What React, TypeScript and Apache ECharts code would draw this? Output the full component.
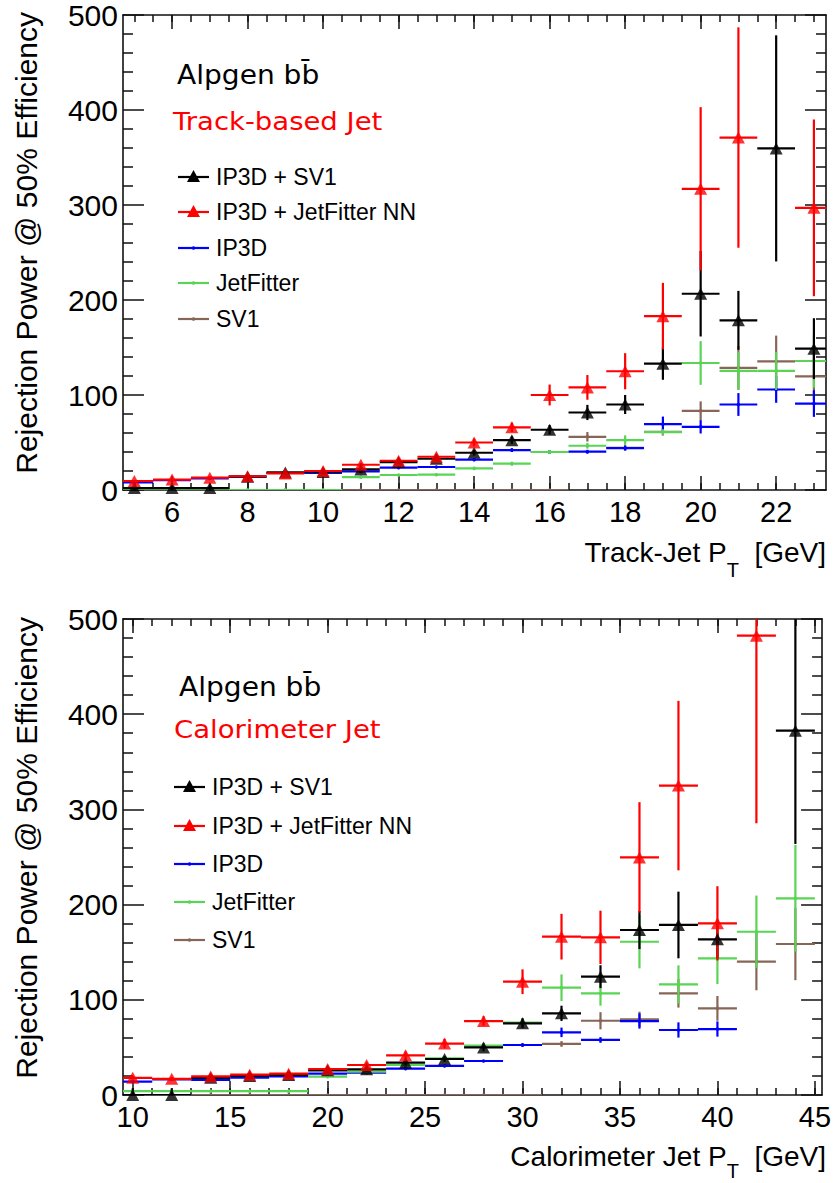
import React, { useEffect, useRef } from "react";
import * as echarts from "echarts";

// ---------- Track-based jets (bins of 1 GeV) ----------
const trackPt = [5, 6, 7, 8, 9, 10, 11, 12, 13, 14, 15, 16, 17, 18, 19, 20, 21, 22, 23];
const trackIP3DSV1 = [2, 2, 2, 14, 18.5, 19, 21.7, 29.4, 32.9, 39.2, 52.5, 63.4, 81.6, 90, 133, 206.6, 178.6, 359.6, 148.8];
const trackIP3DSV1Err = [2, 2, 2, 1.5, 1.5, 1.5, 2, 2, 2.5, 3, 4, 5, 8, 10, 17, 45, 31, 119, 32];
const trackIP3DJFNN = [9.5, 11, 13, 14.5, 17.5, 20, 26.6, 30.8, 35, 50, 66, 100, 108, 125, 183, 317, 371, null, 297];
const trackIP3DJFNNErr = [1, 1, 1, 1.5, 1.5, 1.5, 2, 2.5, 3, 4, 5, 11, 13, 19, 35, 86, 116, null, 93];
const trackIP3D = [8, 10.5, 12.3, 14, 17.9, 18, 19.6, 23.5, 24.2, 31.9, 42, 40, 40.3, 44, 69.3, 66.5, 90, 105.8, 91];
const trackIP3DErr = [1, 1, 1, 1, 1, 1, 1, 1, 1, 1.5, 2, 2, 2, 2.5, 8, 7, 12, 14, 14];
const trackJetFitter = [0, 0, 0, 0, 0, 0, 13.5, 15.8, 16.1, 22.8, 27.7, 40, 46.6, 52.5, 61, 133.7, 125.3, 125.3, 135.8];
const trackJetFitterErr = [0, 0, 0, 0, 0, 0, 1, 1, 1, 1.5, 2, 2, 3, 5, 3, 23, 20, 20, 28];
const trackSV1 = [0, 0, 0, 0, 0, 0, 0, 0, 0, 0, 0, 0, 56, 44.5, 61.3, 83.3, 128.5, 135.5, 119.7];
const trackSV1Err = [0, 0, 0, 0, 0, 0, 0, 0, 0, 0, 0, 0, 5, 3, 4, 10, 23, 27, 25];

// ---------- Calorimeter jets (bins of 2 GeV) ----------
const caloPt = [10, 12, 14, 16, 18, 20, 22, 24, 26, 28, 30, 32, 34, 36, 38, 40, 42, 44];
const caloIP3DSV1 = [0, 0, 18, 20, 21, 25.9, 27, 34, 37.8, 50, 75.3, 85.8, 124.3, 173.3, 178.6, 163.5, null, 382.7];
const caloIP3DSV1Err = [7, 7, 1.5, 1.5, 1.5, 2, 2, 3, 3, 4, 5, 8, 12, 20, 35, 20, null, 119];
const caloIP3DJFNN = [18, 17, 19.5, 21.4, 22.4, 27.3, 31.5, 41.7, 54, 77.7, 119, 166.3, 165.6, 249.6, 325, 180.3, 482.5, null];
const caloIP3DJFNNErr = [2, 2, 2, 2, 2, 3, 3, 4, 5, 5, 13, 24, 28, 58, 89, 39, 197, null];
const caloIP3D = [14, 16.5, 15.8, 18.2, 19.6, 22.4, 23.4, 27.7, 30.5, 35.7, 52.5, 65.8, 57.8, 77.7, 68.3, 69.3, null, null];
const caloIP3DErr = [1, 1, 1, 1, 1, 1, 1, 1, 1, 1, 2, 5, 3, 8, 8, 8, null, null];
const caloJetFitter = [4, 4, 4, 4, 4, 19.3, 24.5, 31.5, 38.5, 51.8, 76, 112.7, 106.8, 161, 116.2, 143.6, 171.5, 206.6];
const caloJetFitterErr = [0, 0, 0, 0, 0, 1, 1.5, 2, 2, 3, 5, 14, 13, 28, 20, 27, 38, 56];
const caloSV1 = [0, 0, 0, 0, 0, 0, 0, 0, 0, 0, 0, 53.6, 78, 79.5, 106.8, 91, 140, 158.6];
const caloSV1Err = [0, 0, 0, 0, 0, 0, 0, 0, 0, 0, 0, 3, 9, 8, 15, 13, 30, 38];

const seriesNames = ["IP3D + SV1", "IP3D + JetFitter NN", "IP3D", "JetFitter", "SV1"];
const seriesColors = ["#000000", "#ff0000", "#0000ff", "#59d454", "#876657"];
const triangleMarker = [true, true, false, false, false];

const yTitle = "Rejection Power @ 50% Efficiency";
const trackTitle = "Track-Jet P";
const caloTitle = "Calorimeter Jet P";

const AXIS_FONT = "'Liberation Sans', Arial, Helvetica, sans-serif";
const DEJAVU = "'DejaVu Sans', sans-serif";

function pack(xs: number[], ys: (number | null)[], es: (number | null)[]) {
  const out: number[][] = [];
  xs.forEach((x, i) => {
    if (ys[i] !== null && ys[i] !== undefined) out.push([x, ys[i] as number, (es[i] ?? 0) as number]);
  });
  return out;
}

function makeRenderItem(halfWidth: number, color: string, dot: boolean) {
  return (_params: any, api: any) => {
    const x = api.value(0);
    const y = api.value(1);
    const e = api.value(2);
    const pL = api.coord([x - halfWidth, y]);
    const pR = api.coord([x + halfWidth, y]);
    const pT = api.coord([x, y + e]);
    const pB = api.coord([x, y - e]);
    const style = { stroke: color, lineWidth: 2.2 };
    const children: any[] = [
      { type: "line", shape: { x1: pL[0], y1: pL[1], x2: pR[0], y2: pR[1] }, style },
      { type: "line", shape: { x1: pT[0], y1: pT[1], x2: pB[0], y2: pB[1] }, style },
    ];
    if (dot) {
      children.push({ type: "circle", shape: { cx: pL[0] + (pR[0] - pL[0]) / 2, cy: pL[1], r: 1.8 }, style: { fill: color } });
    }
    return { type: "group", children };
  };
}

function buildSeries(
  xs: number[],
  sets: [(number | null)[], (number | null)[]][],
  halfWidth: number,
  xAxisIndex: number,
  yAxisIndex: number
) {
  const order = [4, 2, 3, 0, 1];
  const out: any[] = [];
  order.forEach((k) => {
    const data = pack(xs, sets[k][0], sets[k][1]);
    out.push({
      type: "custom",
      name: seriesNames[k],
      xAxisIndex,
      yAxisIndex,
      clip: true,
      silent: true,
      renderItem: makeRenderItem(halfWidth, seriesColors[k], !triangleMarker[k]),
      encode: { x: 0, y: 1 },
      data,
      z: 2 + order.indexOf(k),
    });
    if (triangleMarker[k]) {
      out.push({
        type: "scatter",
        xAxisIndex,
        yAxisIndex,
        clip: true,
        silent: true,
        symbol: "triangle",
        symbolSize: [13, 12],
        itemStyle: { color: seriesColors[k] },
        data: data.map((d) => [d[0], d[1]]),
        z: 10 + order.indexOf(k),
      });
    }
  });
  return out;
}

function range(a: number, b: number, step: number) {
  const r: number[] = [];
  for (let v = a; v <= b + 1e-9; v += step) r.push(Math.round(v * 100) / 100);
  return r;
}

function xAxes(gridIndex: number, min: number, max: number, majors: number[], minors: number[]) {
  const common = { type: "value", gridIndex, min, max, splitLine: { show: false } };
  const line = { show: true, onZero: false, lineStyle: { color: "#111", width: 1.6 } };
  return [
    {
      ...common,
      position: "bottom",
      axisLine: line,
      axisTick: { show: true, inside: true, length: 14, customValues: majors, lineStyle: { color: "#111", width: 1.5 } },
      axisLabel: { show: true, customValues: majors, margin: 7, color: "#000", fontSize: 29, fontFamily: AXIS_FONT },
    },
    {
      ...common,
      position: "bottom",
      axisLine: { show: false, onZero: false },
      axisTick: { show: true, inside: true, length: 7, customValues: minors, lineStyle: { color: "#111", width: 1.5 } },
      axisLabel: { show: false },
    },
    {
      ...common,
      position: "top",
      axisLine: line,
      axisTick: { show: true, inside: true, length: 14, customValues: majors, lineStyle: { color: "#111", width: 1.5 } },
      axisLabel: { show: false },
    },
    {
      ...common,
      position: "top",
      axisLine: { show: false, onZero: false },
      axisTick: { show: true, inside: true, length: 7, customValues: minors, lineStyle: { color: "#111", width: 1.5 } },
      axisLabel: { show: false },
    },
  ];
}

function yAxes(gridIndex: number) {
  const common = {
    type: "value",
    gridIndex,
    min: 0,
    max: 500,
    interval: 100,
    splitLine: { show: false },
    axisLine: { show: true, onZero: false, lineStyle: { color: "#111", width: 1.6 } },
    axisTick: { show: true, inside: true, length: 21, lineStyle: { color: "#111", width: 1.5 } },
    minorTick: { show: true, splitNumber: 5, length: 10, lineStyle: { color: "#111", width: 1.5 } },
  };
  return [
    { ...common, position: "left", axisLabel: { show: true, margin: 5, color: "#000", fontSize: 30, fontFamily: AXIS_FONT } },
    { ...common, position: "right", axisLabel: { show: false } },
  ];
}

function legendGraphics(x0: number, rows: number[], textX: number) {
  const els: any[] = [];
  seriesNames.forEach((name, k) => {
    const y = rows[k];
    els.push({ type: "line", shape: { x1: x0, y1: y, x2: x0 + 31, y2: y }, style: { stroke: seriesColors[k], lineWidth: 2.2 } });
    const cx = x0 + 15.5;
    if (triangleMarker[k]) {
      els.push({ type: "polygon", shape: { points: [[cx, y - 7], [cx - 6.5, y + 5], [cx + 6.5, y + 5]] }, style: { fill: seriesColors[k] } });
    } else {
      els.push({ type: "circle", shape: { cx, cy: y, r: 1.8 }, style: { fill: seriesColors[k] } });
    }
    els.push({
      type: "text",
      x: textX,
      y,
      style: { text: name, fill: "#000", fontSize: 23, fontFamily: AXIS_FONT, align: "left", verticalAlign: "middle" },
    });
  });
  return els;
}

function xTitle(text: string, y: number, lh: number) {
  return {
    type: "text",
    x: 826,
    y,
    style: {
      text: `{m|${text}}{s|T}{m|  [GeV]}`,
      align: "right",
      verticalAlign: "top",
      fill: "#000",
      rich: {
        m: { fontSize: 28, fontFamily: AXIS_FONT, lineHeight: lh, verticalAlign: "top", fill: "#000" },
        s: { fontSize: 20, fontFamily: AXIS_FONT, lineHeight: lh, verticalAlign: "bottom", fill: "#000" },
      },
    },
  };
}

function yTitleEl(yTop: number) {
  return {
    type: "text",
    x: 26,
    y: yTop,
    rotation: Math.PI / 2,
    style: { text: yTitle, fill: "#000", fontSize: 30, fontFamily: AXIS_FONT, align: "right", verticalAlign: "middle" },
  };
}

function plotText(x: number, y: number, text: string, color: string, size: number, scaleX: number) {
  return {
    type: "text",
    x,
    y,
    scaleX,
    style: { text, fill: color, fontSize: size, fontFamily: DEJAVU, align: "left", verticalAlign: "middle" },
  };
}

export default function App() {
  const ref = useRef<HTMLDivElement>(null);
  useEffect(() => {
    document.body.style.margin = "0";
    if (!ref.current) return;
    const chart = echarts.init(ref.current, undefined, { renderer: "svg" });

    const trackSets: [(number | null)[], (number | null)[]][] = [
      [trackIP3DSV1, trackIP3DSV1Err],
      [trackIP3DJFNN, trackIP3DJFNNErr],
      [trackIP3D, trackIP3DErr],
      [trackJetFitter, trackJetFitterErr],
      [trackSV1, trackSV1Err],
    ];
    const caloSets: [(number | null)[], (number | null)[]][] = [
      [caloIP3DSV1, caloIP3DSV1Err],
      [caloIP3DJFNN, caloIP3DJFNNErr],
      [caloIP3D, caloIP3DErr],
      [caloJetFitter, caloJetFitterErr],
      [caloSV1, caloSV1Err],
    ];

    const option: any = {
      animation: false,
      backgroundColor: "#ffffff",
      grid: [
        { left: 123, top: 14, width: 703, height: 476 },
        { left: 123, top: 619, width: 703, height: 476 },
      ],
      xAxis: [
        ...xAxes(0, 4.7, 23.32, range(6, 22, 2), range(5, 23, 0.5)),
        ...xAxes(1, 9.5, 45.37, range(10, 45, 5), range(10, 45, 1)),
      ],
      yAxis: [...yAxes(0), ...yAxes(1)],
      series: [
        ...buildSeries(trackPt, trackSets, 0.5, 0, 0),
        ...buildSeries(caloPt, caloSets, 1, 4, 2),
      ],
      graphic: {
        elements: [
          yTitleEl(12),
          yTitleEl(617),
          xTitle(trackTitle, 538, 42),
          xTitle(caloTitle, 1142, 39),
          plotText(177, 75, "Alpgen b\u0062\u0304", "#000", 26, 1.08),
          plotText(173, 121, "Track-based Jet", "#ff0000", 25, 1.1),
          plotText(179, 687, "Alpgen b\u0062\u0304", "#000", 26, 1.08),
          plotText(174, 729, "Calorimeter Jet", "#ff0000", 25, 1.1),
          ...legendGraphics(178, [177, 212, 248, 283, 319], 216),
          ...legendGraphics(174, [787, 826, 864, 902, 940], 212),
        ],
      },
    };
    chart.setOption(option);
    return () => chart.dispose();
  }, []);
  return <div ref={ref} style={{ width: 834, height: 1183 }} />;
}
